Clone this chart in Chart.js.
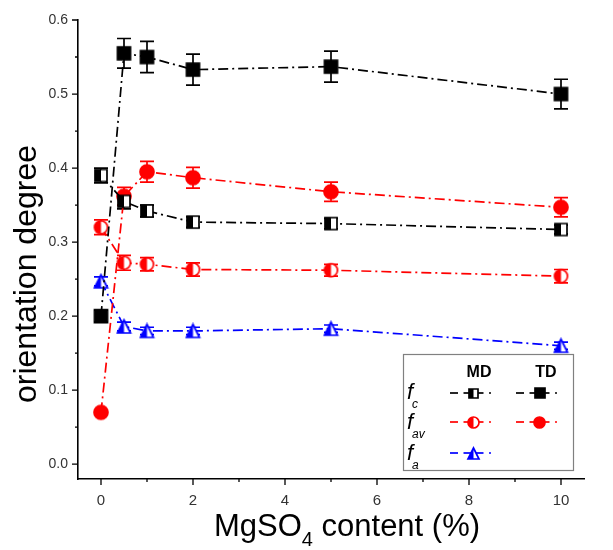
<!DOCTYPE html>
<html>
<head>
<meta charset="utf-8">
<script src="https://cdn.jsdelivr.net/npm/chart.js@4.4.1/dist/chart.umd.min.js"></script>
<style>
  html, body { margin: 0; padding: 0; background: #fff; }
  #wrap { width: 613px; height: 550px; }
</style>
</head>
<body>
<div id="wrap"><canvas id="c" width="613" height="550"></canvas></div>
<script>
// MgSO4 content (%)
const content = [0, 0.5, 1, 2, 5, 10];

// orientation degree, machine direction (MD) and transverse direction (TD)
const fcMD  = [0.390, 0.355, 0.342, 0.327, 0.325, 0.317];
const fcTD  = [0.200, 0.555, 0.550, 0.533, 0.537, 0.500];
const favMD = [0.320, 0.272, 0.270, 0.263, 0.262, 0.254];
const favTD = [0.070, 0.362, 0.395, 0.387, 0.368, 0.347];
const faMD  = [0.247, 0.186, 0.180, 0.180, 0.183, 0.160];

// standard deviations
const fcMDErr  = [0.010, 0.010, 0.008, 0.007, 0.007, 0.006];
const fcTDErr  = [0.008, 0.020, 0.021, 0.021, 0.021, 0.020];
const favMDErr = [0.010, 0.010, 0.009, 0.009, 0.008, 0.009];
const favTDErr = [0.000, 0.012, 0.014, 0.014, 0.013, 0.013];
const faMDErr  = [0.006, 0.006, 0.005, 0.005, 0.005, 0.005];

// axis ticks
const xTicks = [0, 2, 4, 6, 8, 10];
const xMinor = [1, 3, 5, 7, 9];
const yTicks = [0.0, 0.1, 0.2, 0.3, 0.4, 0.5, 0.6];
const yMinor = [0.05, 0.15, 0.25, 0.35, 0.45, 0.55];

const RED = '#ff0000', BLUE = '#0000ff', BLACK = '#000000';
const DASH = [10, 4, 2, 4];
const FONT = '"Liberation Sans", Arial, sans-serif';

// marker glyphs: half-filled (MD) and filled (TD)
function makeMarker(shape, color, half, size) {
  const pad = 2;
  const c = document.createElement('canvas');
  c.width = size + pad * 2; c.height = size + pad * 2;
  const g = c.getContext('2d');
  const s = size, o = pad, cx = o + s / 2, cy = o + s / 2;
  function path() {
    g.beginPath();
    if (shape === 'square') { g.rect(o, o, s, s); }
    else if (shape === 'circle') { g.arc(cx, cy, s / 2, 0, Math.PI * 2); }
    else { g.moveTo(cx, o); g.lineTo(o + s, o + s); g.lineTo(o, o + s); g.closePath(); }
  }
  path();
  g.fillStyle = half ? '#ffffff' : color;
  g.fill();
  if (half) {
    g.save();
    g.beginPath(); g.rect(0, 0, cx, c.height); g.clip();
    path(); g.fillStyle = color; g.fill();
    g.restore();
  }
  path();
  g.lineWidth = 1.7; g.strokeStyle = color; g.stroke();
  return c;
}

const mk = {
  fcMD: makeMarker('square', BLACK, true, 12),
  fcTD: makeMarker('square', BLACK, false, 13),
  favMD: makeMarker('circle', RED, true, 13),
  favTD: makeMarker('circle', RED, false, 14),
  faMD: makeMarker('triangle', BLUE, true, 13)
};
const mkLegend = {
  fcMD: makeMarker('square', BLACK, true, 9),
  fcTD: makeMarker('square', BLACK, false, 10),
  favMD: makeMarker('circle', RED, true, 11),
  favTD: makeMarker('circle', RED, false, 11),
  faMD: makeMarker('triangle', BLUE, true, 11)
};

function series(vals, errs, color, marker, label) {
  return {
    label: label,
    data: content.map((x, i) => ({ x: x, y: vals[i] })),
    errors: errs,
    borderColor: color,
    backgroundColor: color,
    borderWidth: 1.7,
    borderDash: DASH,
    pointStyle: marker,
    pointRadius: 7,
    pointHoverRadius: 7,
    tension: 0,
    fill: false
  };
}

// error bars, drawn from dataset values through the scales
const errorBars = {
  id: 'errorBars',
  beforeDatasetsDraw(chart) {
    const { ctx, scales: { x, y } } = chart;
    chart.data.datasets.forEach(ds => {
      ctx.save();
      ctx.strokeStyle = ds.borderColor;
      ctx.lineWidth = 1.7;
      ds.data.forEach((p, i) => {
        const e = ds.errors[i];
        if (!e) return;
        const px = x.getPixelForValue(p.x);
        const top = y.getPixelForValue(p.y + e);
        const bot = y.getPixelForValue(p.y - e);
        const cap = 7;
        ctx.beginPath();
        ctx.moveTo(px, top); ctx.lineTo(px, bot);
        ctx.moveTo(px - cap, top); ctx.lineTo(px + cap, top);
        ctx.moveTo(px - cap, bot); ctx.lineTo(px + cap, bot);
        ctx.stroke();
      });
      ctx.restore();
    });
  }
};

// outward major/minor ticks, axis titles and the MD/TD key
const decorations = {
  id: 'decorations',
  afterDraw(chart) {
    const { ctx, chartArea: a, scales: { x, y } } = chart;
    ctx.save();
    ctx.strokeStyle = '#000'; ctx.lineWidth = 1.3;
    ctx.beginPath();
    yTicks.forEach(v => { const py = y.getPixelForValue(v); ctx.moveTo(a.left, py); ctx.lineTo(a.left - 6, py); });
    yMinor.forEach(v => { const py = y.getPixelForValue(v); ctx.moveTo(a.left, py); ctx.lineTo(a.left - 3, py); });
    xTicks.forEach(v => { const px = x.getPixelForValue(v); ctx.moveTo(px, a.bottom); ctx.lineTo(px, a.bottom + 6); });
    xMinor.forEach(v => { const px = x.getPixelForValue(v); ctx.moveTo(px, a.bottom); ctx.lineTo(px, a.bottom + 3); });
    ctx.stroke();

    // y title
    ctx.fillStyle = '#000';
    ctx.font = '32px ' + FONT;
    ctx.textAlign = 'center'; ctx.textBaseline = 'alphabetic';
    ctx.save();
    ctx.translate(36, 274);
    ctx.rotate(-Math.PI / 2);
    ctx.fillText('orientation degree', 0, 0);
    ctx.restore();

    // x title with subscript
    ctx.textBaseline = 'alphabetic'; ctx.textAlign = 'left';
    const p1 = 'MgSO', p2 = '4', p3 = ' content (%)';
    ctx.font = '31px ' + FONT;
    const w1 = ctx.measureText(p1).width, w3 = ctx.measureText(p3).width;
    ctx.font = '20px ' + FONT;
    const w2 = ctx.measureText(p2).width;
    let sx = 347 - (w1 + w2 + w3) / 2;
    const base = 536;
    ctx.font = '31px ' + FONT; ctx.fillText(p1, sx, base); sx += w1;
    ctx.font = '20px ' + FONT; ctx.fillText(p2, sx, base + 10); sx += w2;
    ctx.font = '31px ' + FONT; ctx.fillText(p3, sx, base);

    // key box
    ctx.strokeStyle = '#808080'; ctx.lineWidth = 1.2;
    ctx.strokeRect(403.5, 354.5, 170, 116);
    ctx.font = 'bold 16px ' + FONT; ctx.textAlign = 'center';
    ctx.fillText('MD', 479, 377);
    ctx.fillText('TD', 546, 377);

    function fLabel(sub, yb) {
      ctx.textAlign = 'left';
      ctx.font = 'italic 22px ' + FONT;
      ctx.fillText('f', 407, yb);
      ctx.font = 'italic 12px ' + FONT;
      ctx.fillText(sub, 412, yb + 9);
    }
    fLabel('c', 399);
    fLabel('av', 429);
    fLabel('a', 460);

    function keyLine(x0, x1, yy, color, marker) {
      ctx.save();
      ctx.strokeStyle = color; ctx.lineWidth = 1.7;
      ctx.beginPath(); ctx.moveTo(x0, yy); ctx.lineTo(x0 + 8, yy); ctx.stroke();
      ctx.beginPath(); ctx.moveTo(x1 - 2, yy); ctx.lineTo(x1, yy); ctx.stroke();
      const mx = (x0 + x1) / 2 + 3;
      ctx.beginPath(); ctx.moveTo(mx - 10, yy); ctx.lineTo(mx + 10, yy); ctx.stroke();
      ctx.drawImage(marker, Math.round(mx - marker.width / 2), Math.round(yy - marker.height / 2));
      ctx.restore();
    }
    keyLine(450, 491, 393, BLACK, mkLegend.fcMD);
    keyLine(516, 557, 393, BLACK, mkLegend.fcTD);
    keyLine(450, 491, 422, RED, mkLegend.favMD);
    keyLine(516, 557, 422, RED, mkLegend.favTD);
    keyLine(450, 491, 453, BLUE, mkLegend.faMD);
    ctx.restore();
  }
};

new Chart(document.getElementById('c'), {
  type: 'line',
  data: {
    datasets: [
      series(fcTD, fcTDErr, BLACK, mk.fcTD, 'fc TD'),
      series(fcMD, fcMDErr, BLACK, mk.fcMD, 'fc MD'),
      series(favTD, favTDErr, RED, mk.favTD, 'fav TD'),
      series(favMD, favMDErr, RED, mk.favMD, 'fav MD'),
      series(faMD, faMDErr, BLUE, mk.faMD, 'fa MD')
    ]
  },
  options: {
    responsive: false,
    animation: false,
    events: [],
    layout: { padding: { top: 20, right: 29, left: 0, bottom: 0 } },
    plugins: { legend: { display: false }, tooltip: { enabled: false } },
    scales: {
      x: {
        type: 'linear',
        min: -0.5, max: 10.5,
        afterBuildTicks: s => { s.ticks = xTicks.map(v => ({ value: v })); },
        afterFit: s => { s.height = 71; },
        grid: { display: false, drawTicks: false },
        border: { display: true, color: '#000', width: 1.6 },
        ticks: { padding: 13, color: '#333', font: { size: 15, family: FONT }, maxRotation: 0 }
      },
      y: {
        type: 'linear',
        min: -0.02, max: 0.6,
        afterBuildTicks: s => { s.ticks = yTicks.map(v => ({ value: v })); },
        afterFit: s => { s.width = 78; },
        grid: { display: false, drawTicks: false },
        border: { display: true, color: '#000', width: 1.6 },
        ticks: { padding: 10, color: '#333', font: { size: 14, family: FONT }, callback: v => v.toFixed(1) }
      }
    }
  },
  plugins: [errorBars, decorations]
});
</script>
</body>
</html>
